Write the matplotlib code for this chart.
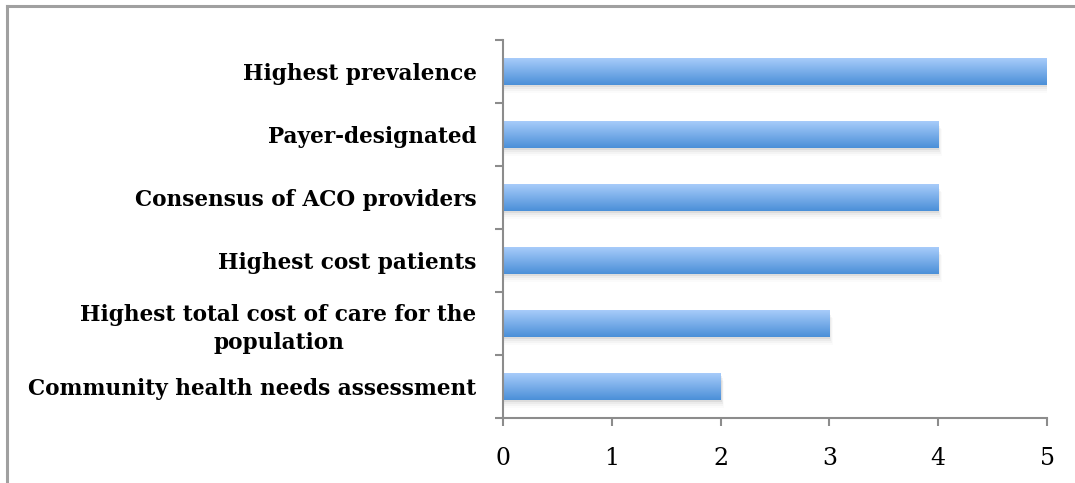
import numpy as np
import matplotlib
matplotlib.use("Agg")
import matplotlib.pyplot as plt
from matplotlib.patches import Rectangle
from matplotlib.lines import Line2D
from matplotlib.colors import LinearSegmentedColormap

categories = [
    "Community health needs assessment",
    "Highest total cost of care for the\npopulation",
    "Highest cost patients",
    "Consensus of ACO providers",
    "Payer-designated",
    "Highest prevalence",
]
values = [2, 3, 4, 4, 4, 5]
x_ticks = [0, 1, 2, 3, 4, 5]

W, H, DPI = 1075, 483, 100
fig = plt.figure(figsize=(W / DPI, H / DPI), dpi=DPI)
ax = fig.add_axes([503 / W, 1 - 418 / H, (1047 - 503) / W, (418 - 40) / H])

# outer frame (top and left edges visible)
frame_col = "#a0a0a0"
fig.add_artist(Line2D([7 / W, 1.0], [1 - 6 / H, 1 - 6 / H], transform=fig.transFigure,
                      color=frame_col, lw=2.2))
fig.add_artist(Line2D([7 / W, 7 / W], [0.0, 1 - 6 / H], transform=fig.transFigure,
                      color=frame_col, lw=2.2))

n = len(categories)
ax.set_xlim(0, 5)
ax.set_ylim(-0.5, n - 0.5)

bar_h = 0.42
grad = LinearSegmentedColormap.from_list("barblue", ["#4a8fd8", "#a8ccfa"])
gimg = np.linspace(0, 1, 256).reshape(-1, 1)

for i, v in enumerate(values):
    # soft drop shadow
    for dx, dy, a in [(0.010, 0.04, 0.12), (0.018, 0.07, 0.08), (0.026, 0.10, 0.05), (0.034, 0.13, 0.03)]:
        sh = Rectangle((0.0, i - bar_h / 2 - dy), v + dx, bar_h, facecolor="#808080",
                       edgecolor="none", alpha=a, zorder=1)
        ax.add_patch(sh)
    rect = Rectangle((0, i - bar_h / 2), v, bar_h, facecolor="none", edgecolor="none", zorder=3)
    ax.add_patch(rect)
    im = ax.imshow(gimg, cmap=grad, aspect="auto", origin="lower",
                   extent=(0, v, i - bar_h / 2, i + bar_h / 2), zorder=2)
    im.set_clip_path(rect)

ax.set_xlim(0, 5)
ax.set_ylim(-0.5, n - 0.5)

for s in ["top", "right"]:
    ax.spines[s].set_visible(False)
for s in ["left", "bottom"]:
    ax.spines[s].set_color("#8c8c8c")
    ax.spines[s].set_linewidth(1.5)

ax.set_xticks(x_ticks)
ax.set_xticklabels([str(t) for t in x_ticks], fontfamily="DejaVu Serif", fontsize=17)
ax.tick_params(axis="x", direction="out", length=6, width=1.5, color="#8c8c8c", pad=15)

ax.set_yticks(np.arange(-0.5, n, 1.0))
ax.set_yticklabels([])
ax.tick_params(axis="y", which="major", direction="out", length=6, width=1.5, color="#8c8c8c")
ax.set_yticks(np.arange(n), minor=True)
ax.set_yticklabels(categories, minor=True, fontfamily="DejaVu Serif", fontweight="bold",
                   fontsize=15.6, multialignment="center", linespacing=1.35)
ax.tick_params(axis="y", which="minor", length=0, pad=19)

fig.savefig("out.png", dpi=DPI)
